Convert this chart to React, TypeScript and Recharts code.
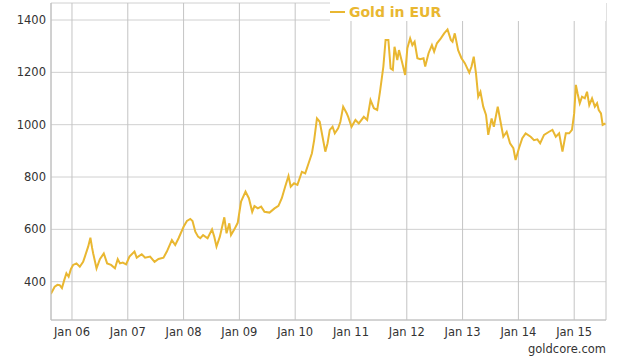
import { CartesianGrid, Legend, Line, LineChart, XAxis, YAxis } from 'recharts';

// decimal year of each reading
const weeks = [
  2005.62, 2005.69, 2005.74, 2005.78, 2005.82, 2005.86, 2005.9, 2005.94, 2005.98,
  2006.02, 2006.08, 2006.14, 2006.2, 2006.23, 2006.29, 2006.33, 2006.36, 2006.38, 2006.44,
  2006.5, 2006.57, 2006.63, 2006.7, 2006.77, 2006.82, 2006.86, 2006.91, 2006.97,
  2007.03, 2007.12, 2007.16, 2007.25, 2007.31, 2007.4, 2007.48, 2007.55, 2007.64, 2007.7,
  2007.79, 2007.85, 2007.91,
  2008.0, 2008.06, 2008.12, 2008.16, 2008.21, 2008.26, 2008.3, 2008.35, 2008.43, 2008.51,
  2008.55, 2008.59, 2008.65, 2008.73, 2008.77, 2008.82, 2008.85, 2008.91, 2008.97,
  2009.03, 2009.11, 2009.17, 2009.23, 2009.27, 2009.33, 2009.39, 2009.45, 2009.54, 2009.63,
  2009.7, 2009.76, 2009.82, 2009.88, 2009.92, 2009.98,
  2010.04, 2010.12, 2010.18, 2010.23, 2010.3, 2010.34, 2010.39, 2010.44, 2010.49, 2010.54,
  2010.58, 2010.62, 2010.67, 2010.71, 2010.77, 2010.81, 2010.86, 2010.92, 2010.95,
  2011.01, 2011.08, 2011.14, 2011.23, 2011.29, 2011.35, 2011.41, 2011.47, 2011.52, 2011.58,
  2011.62, 2011.67, 2011.71, 2011.75, 2011.78, 2011.83, 2011.86, 2011.92, 2011.97,
  2012.01, 2012.06, 2012.1, 2012.14, 2012.19, 2012.24, 2012.3, 2012.33, 2012.39, 2012.45,
  2012.49, 2012.54, 2012.61, 2012.67, 2012.73, 2012.79, 2012.82, 2012.86, 2012.92, 2012.98,
  2013.04, 2013.12, 2013.16, 2013.2, 2013.24, 2013.28, 2013.32, 2013.37, 2013.42, 2013.46,
  2013.52, 2013.56, 2013.63, 2013.68, 2013.73, 2013.79, 2013.85, 2013.91, 2013.95,
  2014.01, 2014.07, 2014.13, 2014.22, 2014.28, 2014.34, 2014.39, 2014.46, 2014.55, 2014.61,
  2014.67, 2014.73, 2014.79, 2014.85, 2014.91, 2014.96,
  2015.0, 2015.03, 2015.06, 2015.1, 2015.14, 2015.19, 2015.23, 2015.27, 2015.32, 2015.37,
  2015.41, 2015.44, 2015.48, 2015.51, 2015.56,
];

// gold price in EUR per ounce
const goldEur = [
  353, 381, 388, 387, 376, 405, 432, 419, 448,
  464, 470, 457, 476, 495, 534, 568, 530, 508, 451,
  486, 508, 470, 464, 451, 486, 470, 473, 466,
  496, 515, 492, 505, 492, 496, 476, 487, 492, 515,
  559, 540, 566,
  610, 632, 640, 632, 591, 572, 566, 578, 566, 600,
  572, 534, 572, 646, 585, 623, 578, 600, 625,
  706, 744, 719, 667, 689, 680, 687, 667, 664, 680,
  690, 719, 763, 804, 763, 776,
  770, 820, 814, 846, 891, 941, 1024, 1011, 954, 897,
  929, 980, 992, 967, 986, 1011, 1069, 1045, 1030,
  992, 1018, 1005, 1030, 1018, 1094, 1063, 1056, 1126, 1222,
  1324, 1324, 1215, 1209, 1298, 1247, 1285, 1235, 1190,
  1292, 1330, 1304, 1317, 1254, 1250, 1254, 1222, 1273, 1304,
  1279, 1311, 1330, 1349, 1364, 1324, 1317, 1349, 1285, 1254,
  1235, 1199, 1222, 1260, 1196, 1107, 1126, 1069, 1037, 961,
  1024, 992, 1069, 1011, 954, 973, 929, 910, 865,
  910, 948, 967, 954, 941, 944, 929, 961, 973, 980,
  954, 967, 897, 967, 967, 980,
  1043, 1152, 1120, 1082, 1107, 1101, 1126, 1075, 1101, 1069,
  1082, 1056, 1043, 999, 1005,
];

const janTicks = [2006, 2007, 2008, 2009, 2010, 2011, 2012, 2013, 2014, 2015];
const priceTicks = [400, 600, 800, 1000, 1200, 1400];

const data = weeks.map((t, i) => ({ t, eur: goldEur[i] }));

const GOLD = '#E9B731';
const FONT = '"DejaVu Sans", Verdana, sans-serif';

const LegendBox = () => (
  <div style={{ position: 'relative', width: '100%', height: '100%', background: '#fff' }}>
    <span style={{ position: 'absolute', left: 0, top: 11, width: 15, height: 2, background: GOLD }} />
    <span
      style={{
        position: 'absolute',
        left: 19,
        top: 5,
        fontFamily: FONT,
        fontWeight: 'bold',
        fontSize: 14,
        lineHeight: '14px',
        color: GOLD,
        whiteSpace: 'nowrap',
      }}
    >
      Gold in EUR
    </span>
  </div>
);

export default function App() {
  return (
    <div style={{ position: 'absolute', top: 0, left: 0, width: 628, height: 359, background: '#fff' }}>
      <LineChart width={628} height={359} data={data} margin={{ top: 3, right: 22, left: 0, bottom: 9 }}>
        <CartesianGrid horizontal={true} vertical={false} stroke="#D0D0D0" />
        <CartesianGrid horizontal={false} vertical={true} stroke="#C4C4C4" />
        <XAxis
          type="number"
          dataKey="t"
          domain={[2005.624, 2015.57]}
          ticks={janTicks}
          allowDataOverflow
          tickFormatter={(t) => 'Jan ' + String(t % 100).padStart(2, '0')}
          tickLine={false}
          tickSize={0}
          tickMargin={8}
          height={30}
          axisLine={{ stroke: '#C0C0C0' }}
          tick={{ fill: '#333', fontSize: 11.5, fontFamily: FONT }}
        />
        <YAxis
          type="number"
          domain={[253.6, 1465]}
          ticks={priceTicks}
          allowDataOverflow
          width={51}
          tickLine={false}
          tickSize={0}
          tickMargin={5}
          axisLine={{ stroke: '#C0C0C0' }}
          tick={{ fill: '#333', fontSize: 11.5, fontFamily: FONT }}
        />
        <Legend
          layout="horizontal"
          verticalAlign="middle"
          content={() => <LegendBox />}
          wrapperStyle={{ top: 0, left: 330, width: 276, height: 21 }}
        />
        <Line
          type="linear"
          dataKey="eur"
          name="Gold in EUR"
          stroke={GOLD}
          strokeWidth={2}
          dot={false}
          isAnimationActive={false}
        />
      </LineChart>
      <div
        style={{
          position: 'absolute',
          right: 22,
          top: 344,
          fontFamily: FONT,
          fontSize: 11.5,
          lineHeight: '11.5px',
          color: '#333',
        }}
      >
        goldcore.com
      </div>
    </div>
  );
}
